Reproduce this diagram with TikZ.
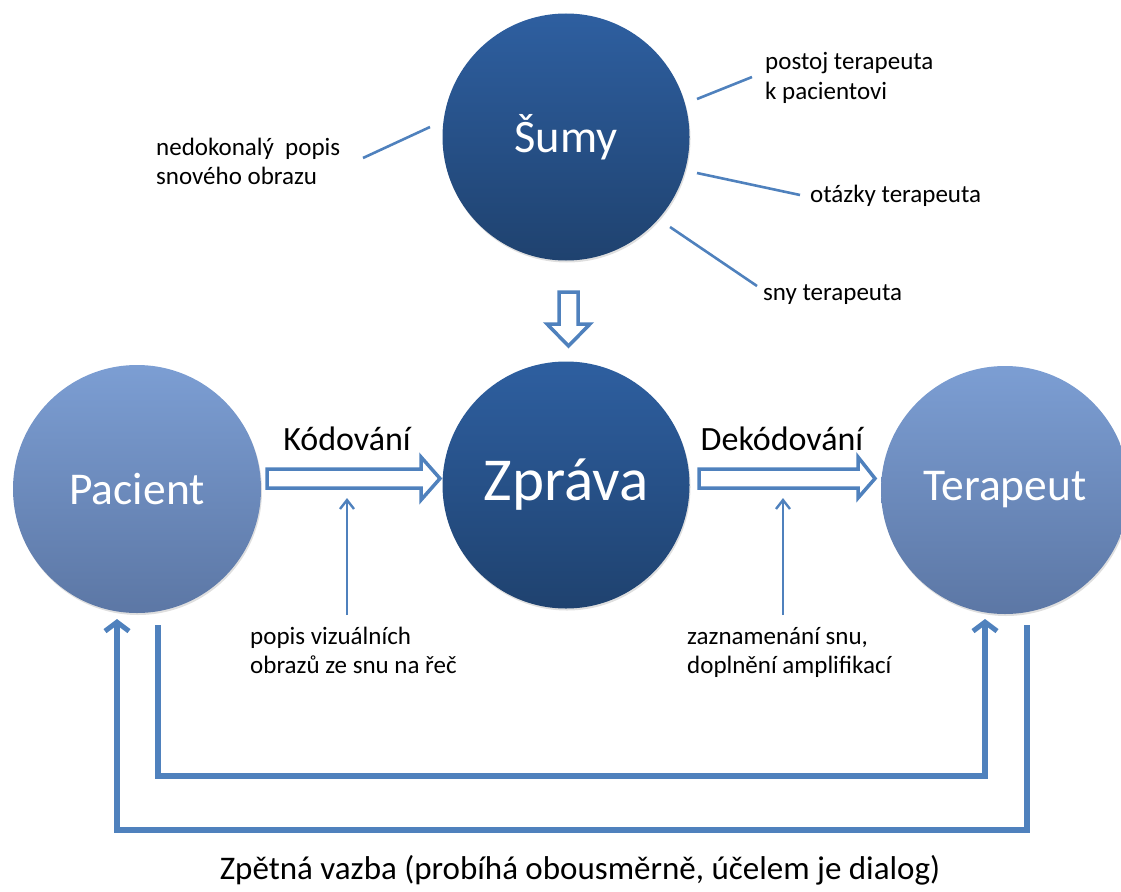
\documentclass[tikz,border=0pt]{standalone}
\usepackage{fontspec}
\setmainfont{Carlito}
\usetikzlibrary{arrows.meta,shadows}
\definecolor{lineblue}{HTML}{4F81BD}
\definecolor{darktop}{HTML}{2E5FA0}
\definecolor{darkbot}{HTML}{1F426F}
\definecolor{lighttop}{HTML}{7C9ED3}
\definecolor{lightbot}{HTML}{5C77A5}
\tikzset{
  darkcircle/.style={circle, minimum size=247pt, inner sep=0pt, top color=darktop, bottom color=darkbot, draw=none, text=white,
    drop shadow={shadow xshift=1pt, shadow yshift=-2pt, opacity=0.25}},
  lightcircle/.style={circle, minimum size=248pt, inner sep=0pt, top color=lighttop, bottom color=lightbot, draw=none, text=white,
    drop shadow={shadow xshift=1pt, shadow yshift=-2pt, opacity=0.25}},
  hollow/.style={draw=lineblue, line width=3.5pt, fill=white, line join=miter},
  thin/.style={draw=lineblue, line width=2.6pt},
  thinarrow/.style={draw=lineblue, line width=2.4pt},
  feedback/.style={draw=lineblue, line width=5.5pt, line join=miter},
  fbarrow/.style={feedback, -{Straight Barb[length=9pt, width=24pt, line width=5pt]}},
  small/.style={font=\fontsize{25}{29}\selectfont, align=left, anchor=base west, inner sep=0pt},
}
\begin{document}
\begin{tikzpicture}[x=1pt, y=-1pt]
\useasboundingbox (0,0) rectangle (1121,891);
% circles
\node[darkcircle, font=\fontsize{46.5}{50}\selectfont] (sumy) at (566,137) {Šumy};
\node[darkcircle, font=\fontsize{61}{64}\selectfont] (zprava) at (566,485) {Zpráva};
\node[lightcircle, font=\fontsize{45.5}{50}\selectfont] (pacient) at (137,489) {Pacient};
\begin{scope}
\clip (0,0) rectangle (1121,891);
\node[lightcircle, font=\fontsize{45.5}{50}\selectfont] (terapeut) at (1005,490) {Terapeut};
\end{scope}

% hollow arrows
\draw[hollow] (267,469) -- (421,469) -- (421,457) -- (440,478.5) -- (421,500) -- (421,488) -- (267,488) -- cycle;
\draw[hollow] (699,469) -- (858,469) -- (858,457) -- (875,478.5) -- (858,498) -- (858,488) -- (699,488) -- cycle;
\draw[hollow] (559,292) -- (578,292) -- (578,324) -- (590,324) -- (568.5,346) -- (547,324) -- (559,324) -- cycle;

% labels of arrows
\node[font=\fontsize{34}{38}\selectfont, anchor=base] (kod) at (347,450) {Kódování};
\node[font=\fontsize{34}{38}\selectfont, anchor=base] (dekod) at (782,450) {Dekódování};

% small arrows
\coordinate (pa) at (347,615);
\coordinate (pb) at (347,500);
\draw[thinarrow] (pa) -- (pb);
\draw[thinarrow, line join=miter] ([shift={(-7,9)}]pb) -- (pb) -- ([shift={(7,9)}]pb);
\coordinate (za) at (783,615);
\coordinate (zb) at (783,500);
\draw[thinarrow] (za) -- (zb);
\draw[thinarrow, line join=miter] ([shift={(-7,9)}]zb) -- (zb) -- ([shift={(7,9)}]zb);
\node[small] (popis) at (250,673) {popis vizuálních\\obrazů ze snu na řeč};
\node[small] (zazn) at (687,673) {zaznamenání snu,\\doplnění amplifikací};

% noise lines and labels
\node[small] (nedok) at (156,184) {nedokonalý\ \ popis\\snového obrazu};
\node[small] (postoj) at (765,99) {postoj terapeuta\\k pacientovi};
\node[small] (otazky) at (810,202) {otázky terapeuta};
\node[small] (sny) at (763,300) {sny terapeuta};
\coordinate (n1) at (363,158); \coordinate (n2) at (430,127);
\draw[thin] (n1) -- (n2);
\coordinate (p1) at (697,99); \coordinate (p2) at (752,77);
\draw[thin] (p1) -- (p2);
\coordinate (o1) at (697,173); \coordinate (o2) at (800,195);
\draw[thin] (o1) -- (o2);
\coordinate (s1) at (670,227); \coordinate (s2) at (757,286);
\draw[thin] (s1) -- (s2);

% feedback
\coordinate (a0) at (158,625);
\coordinate (a1) at (158,776);
\coordinate (a2) at (985,776);
\coordinate (a3) at (985,619);
\draw[fbarrow] (a0) -- (a1) -- (a2) -- (a3);
\coordinate (b0) at (1027,625);
\coordinate (b1) at (1027,830);
\coordinate (b2) at (117,830);
\coordinate (b3) at (117,619);
\draw[fbarrow] (b0) -- (b1) -- (b2) -- (b3);

\node[font=\fontsize{33}{38}\selectfont, anchor=base] (zpetna) at (580,879) {Zpětná vazba (probíhá obousměrně, účelem je dialog)};
\end{tikzpicture}
\end{document}
